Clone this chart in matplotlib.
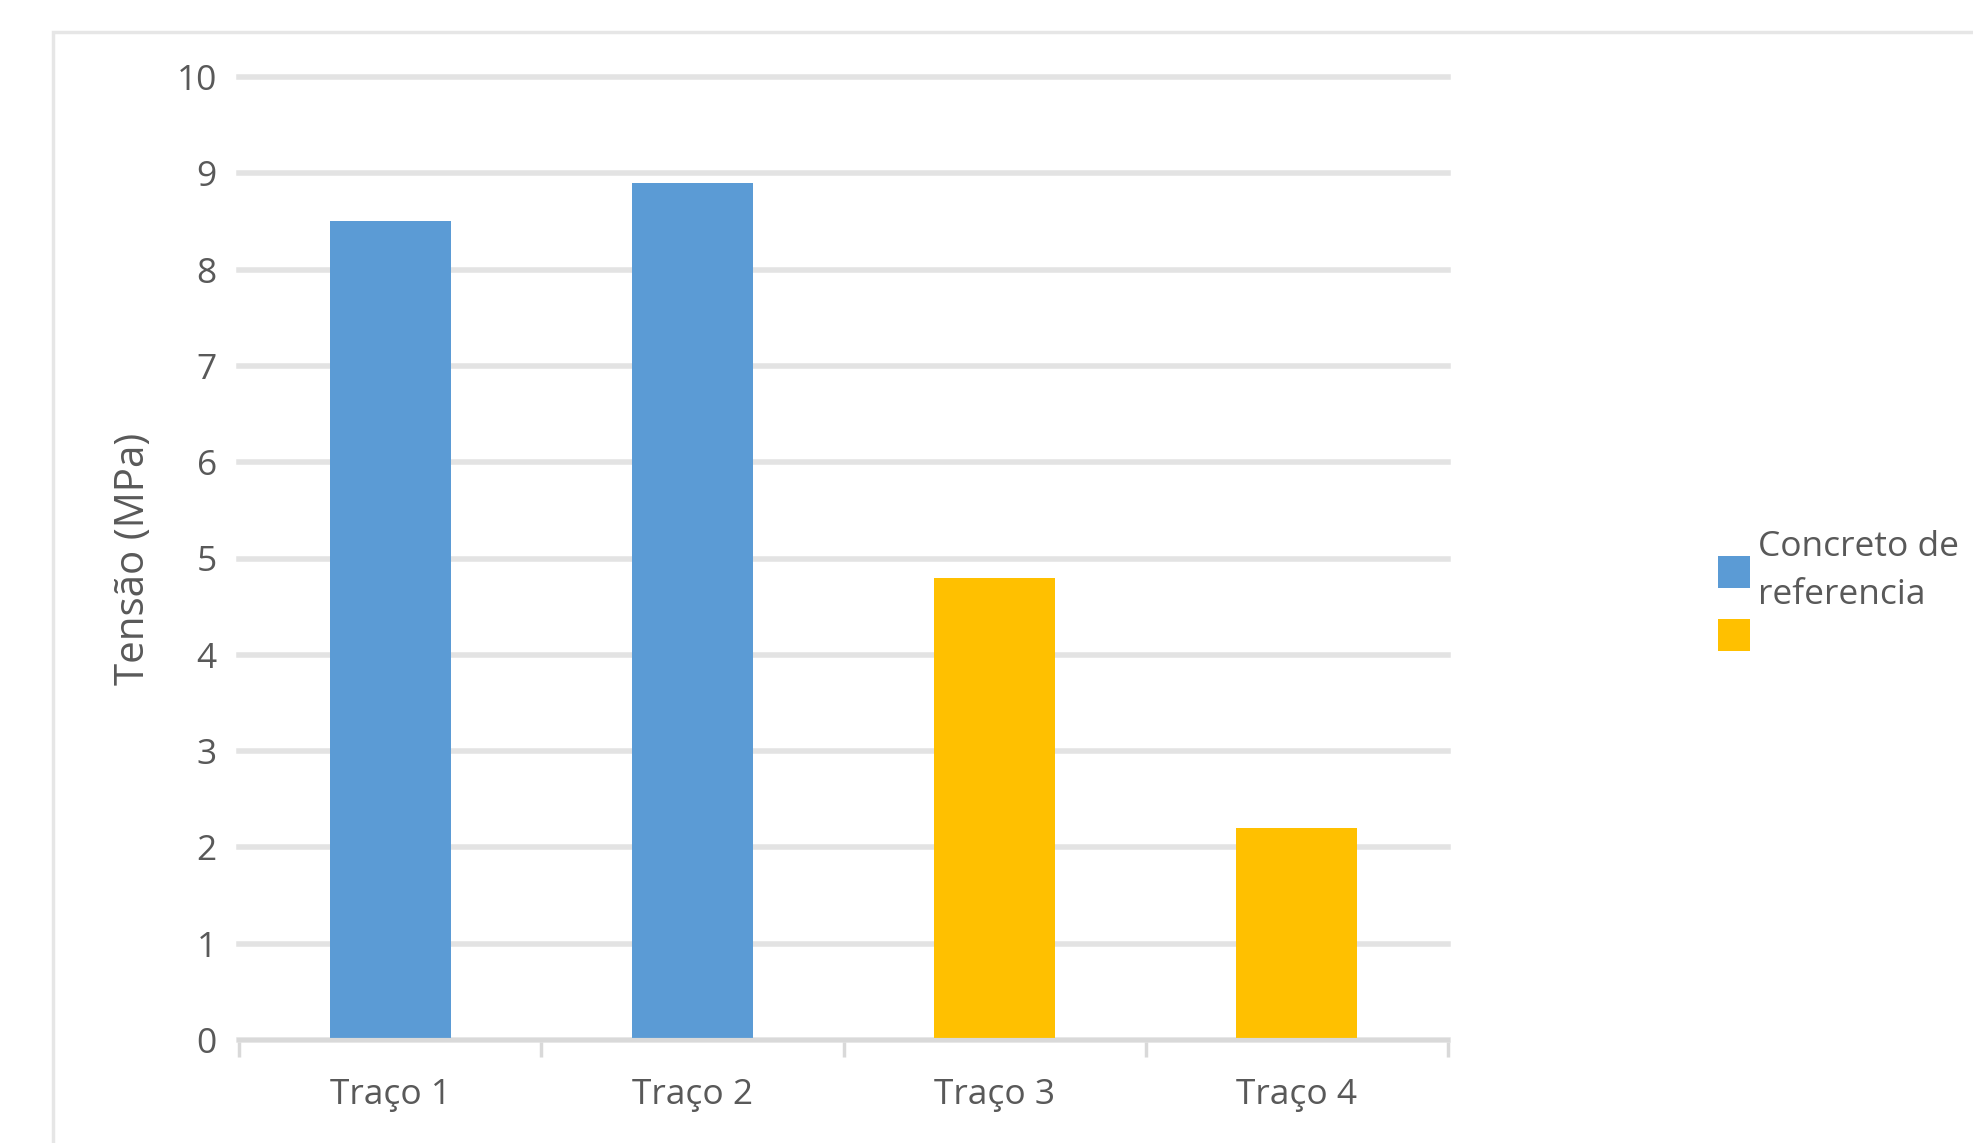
import matplotlib
matplotlib.use("Agg")
import matplotlib.pyplot as plt
from matplotlib.patches import Patch, Rectangle

categories = ["Traço 1", "Traço 2", "Traço 3", "Traço 4"]
values = [8.5, 8.9, 4.8, 2.2]
groups = ["ref", "ref", "alt", "alt"]
legend_labels = ["Concreto de\nreferencia", ""]
yticks = list(range(0, 11))

BLUE = "#5B9BD5"
GOLD = "#FFC000"
GRID = "#e3e3e3"
TEXT = "#595959"

plt.rcParams["font.family"] = ["Open Sans", "DejaVu Sans"]

fig = plt.figure(figsize=(19.74, 11.43), dpi=100)
# outer chart frame
fig.patches.append(Rectangle((53 / 1974, -0.05), 1.2, 1 - 32 / 1143 + 0.05,
                             transform=fig.transFigure, fill=False,
                             edgecolor="#e6e6e6", lw=2.5))

ax = fig.add_axes([239 / 1974, 1 - 1040 / 1143, (1448 - 239) / 1974, (1040 - 77) / 1143])
colors = [BLUE if g == "ref" else GOLD for g in groups]
x = range(len(categories))
ax.bar(x, values, width=0.4, color=colors, zorder=3)

ax.set_xlim(-0.5, len(categories) - 0.5)
ax.set_ylim(0, 10)
ax.set_yticks(yticks)
ax.yaxis.grid(True, color=GRID, lw=4, zorder=0)
for gl in ax.get_ygridlines():
    gl.set_clip_on(False)
ax.tick_params(axis="y", length=0, pad=16, labelsize=25.5, labelcolor=TEXT)

ax.set_xticks(list(x))
ax.set_xticklabels(categories)
ax.set_xticks([i - 0.5 for i in range(len(categories) + 1)], minor=True)
ax.tick_params(axis="x", which="major", length=0, pad=27, labelsize=25.5, labelcolor=TEXT)
ax.tick_params(axis="x", which="minor", length=12, width=2.5, color="#d9d9d9")

for s in ["top", "right", "left"]:
    ax.spines[s].set_visible(False)
ax.spines["bottom"].set_color("#d9d9d9")
ax.spines["bottom"].set_linewidth(3)
ax.spines["bottom"].set_zorder(4)

ax.set_ylabel("Tensão (MPa)", fontsize=29, color=TEXT, labelpad=16)

handles = [Patch(facecolor=BLUE), Patch(facecolor=GOLD)]
fig.legend(handles, legend_labels, loc="upper left",
           bbox_to_anchor=(1718 / 1974, 1 - 530 / 1143), frameon=False,
           fontsize=25.5, labelcolor=TEXT, handlelength=0.9, handleheight=1.0,
           handletextpad=0.22, borderaxespad=0, borderpad=0, labelspacing=0.2)
for t in fig.legends[0].get_texts():
    t.set_linespacing(1.55)

fig.savefig("out.png", dpi=100)
